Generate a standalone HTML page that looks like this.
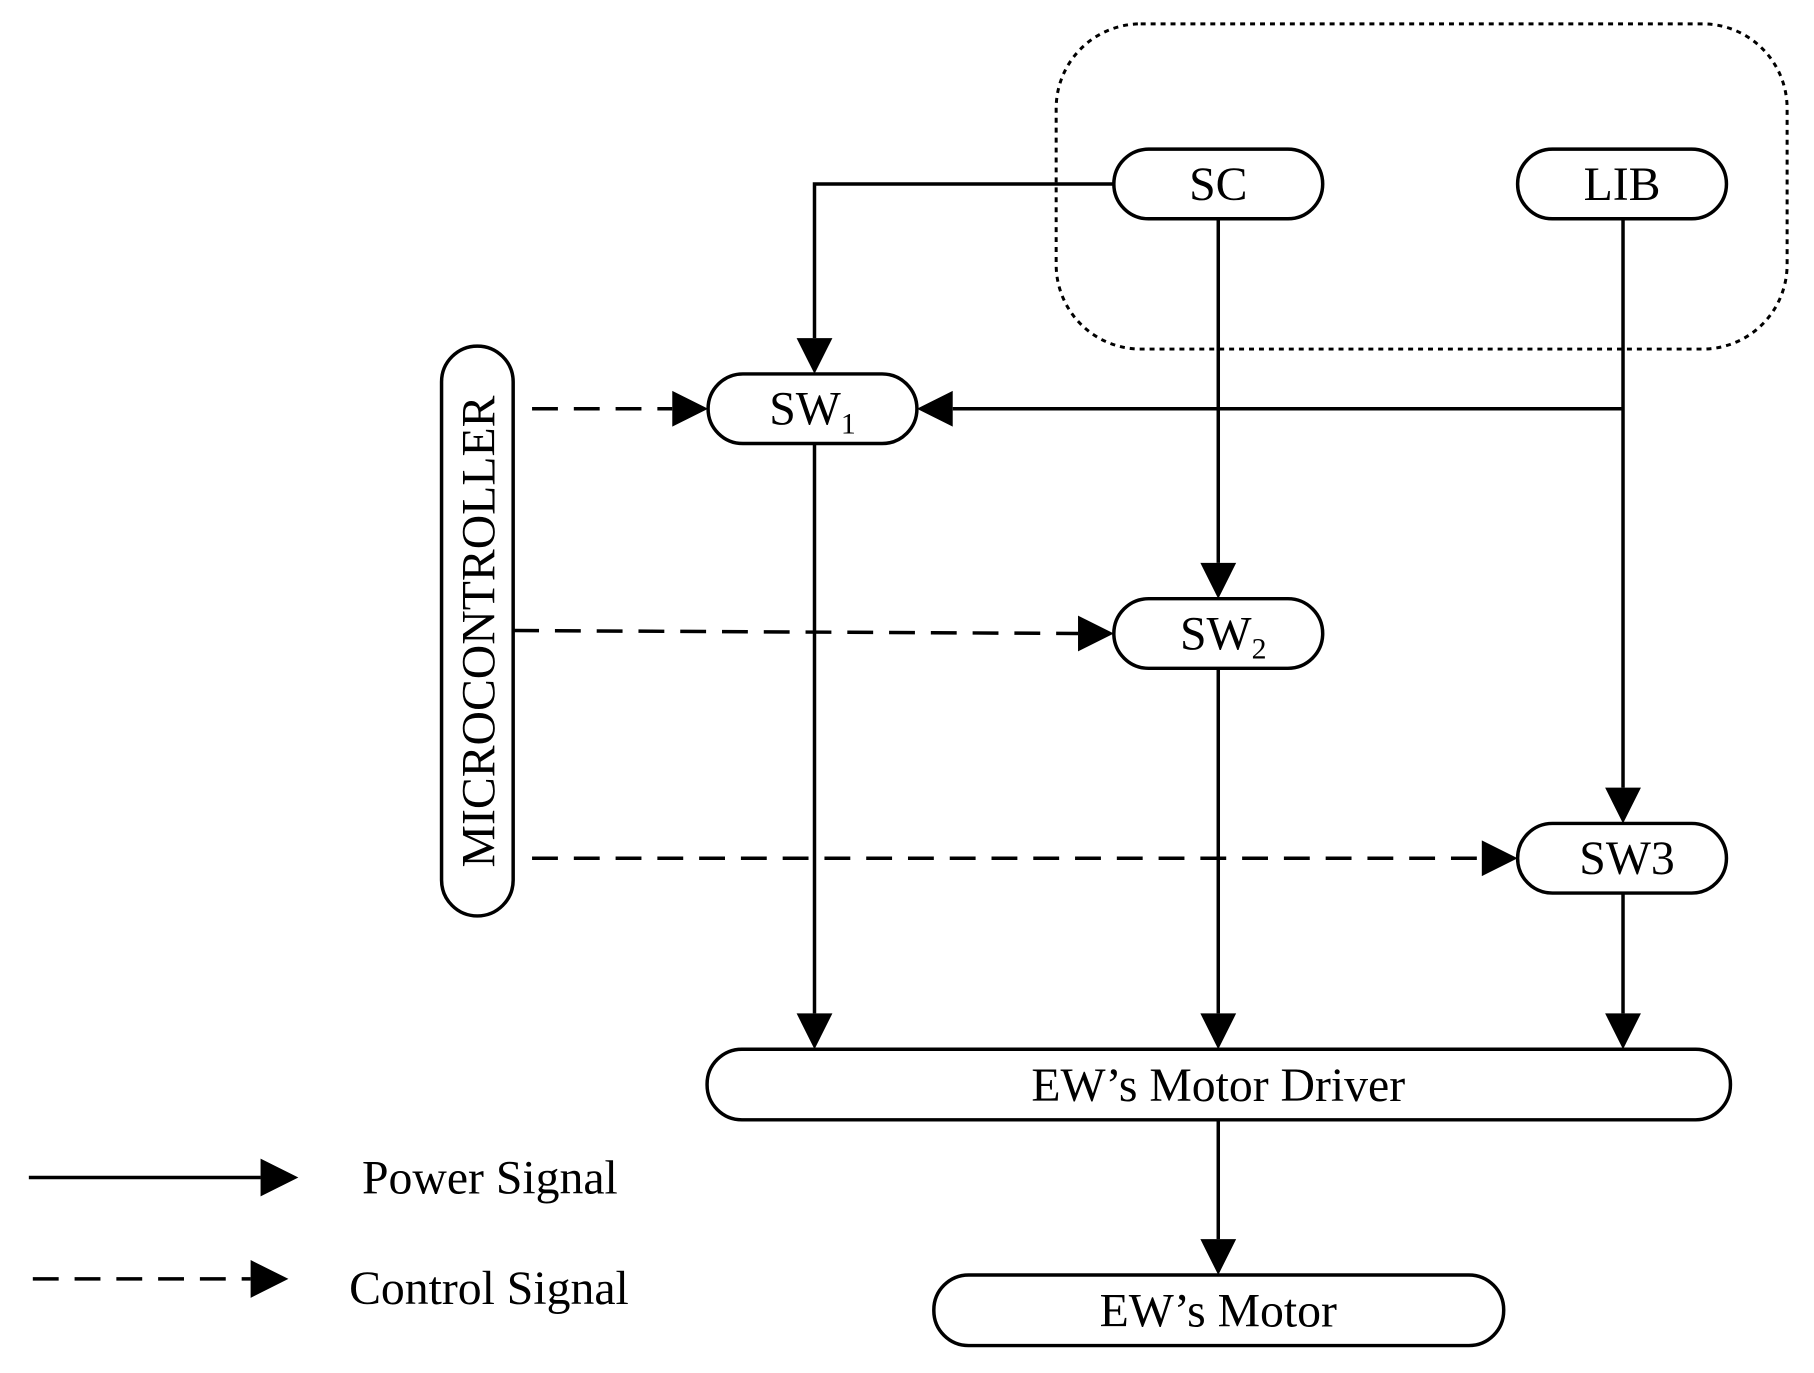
<!DOCTYPE html>
<html><head><meta charset="utf-8"><style>html,body{margin:0;padding:0;background:#fff}svg{display:block}text{font-family:"Liberation Serif",serif;fill:#000}</style></head><body>
<svg width="1814" height="1373" viewBox="0 0 1814 1373" xmlns="http://www.w3.org/2000/svg">
<g transform="scale(0.9945)">
<g fill="none" stroke="#000" stroke-width="3.5">
<rect x="1062" y="24" width="735" height="327" rx="85" stroke-dasharray="5,5" stroke-width="3"/>
<rect x="1120" y="150" width="210" height="70" rx="35"/>
<rect x="1526" y="150" width="210" height="70" rx="35"/>
<rect x="712" y="376" width="210" height="70" rx="35"/>
<rect x="444" y="348" width="72" height="573" rx="36"/>
<rect x="1120" y="602" width="210" height="70" rx="35"/>
<rect x="1526" y="828" width="210" height="70" rx="35"/>
<rect x="711" y="1055" width="1029" height="71" rx="35"/>
<rect x="939" y="1282" width="573" height="71" rx="35"/>
</g>
<g stroke="#000" stroke-width="3.5" fill="none">
<polyline points="1120,185 819,185 819,340"/>
<line x1="1632" y1="411" x2="958" y2="411"/>
<line x1="1225" y1="220" x2="1225" y2="566"/>
<line x1="1632" y1="220" x2="1632" y2="792"/>
<line x1="819" y1="446" x2="819" y2="1019"/>
<line x1="1225" y1="672" x2="1225" y2="1019"/>
<line x1="1632" y1="898" x2="1632" y2="1019"/>
<line x1="1225" y1="1126" x2="1225" y2="1246"/>
<line x1="29" y1="1184" x2="262" y2="1184"/>
<g stroke-dasharray="26,16">
<line x1="535" y1="411" x2="676" y2="411"/>
<line x1="516" y1="634" x2="1084" y2="637"/>
<line x1="535" y1="863" x2="1490" y2="863"/>
<line x1="33" y1="1286" x2="252" y2="1286"/>
</g>
</g>
<g fill="#000">
<path d="M801,340 L837,340 L819,376 z"/>
<path d="M958,393 L958,429 L922,411 z"/>
<path d="M1207,566 L1243,566 L1225,602 z"/>
<path d="M1614,792 L1650,792 L1632,828 z"/>
<path d="M801,1019 L837,1019 L819,1055 z"/>
<path d="M1207,1019 L1243,1019 L1225,1055 z"/>
<path d="M1614,1019 L1650,1019 L1632,1055 z"/>
<path d="M1207,1246 L1243,1246 L1225,1282 z"/>
<path d="M676,393 L676,429 L712,411 z"/>
<path d="M1084,619 L1084,655 L1120,637 z"/>
<path d="M1490,845 L1490,881 L1526,863 z"/>
<path d="M262,1165 L262,1203 L300,1184 z"/>
<path d="M252,1267 L252,1305 L290,1286 z"/>
</g>
<g font-size="48" text-anchor="middle">
<text x="1225" y="201">SC</text>
<text x="1631" y="201">LIB</text>
<text x="817" y="427">SW<tspan font-size="30" dy="9">1</tspan></text>
<text x="1230" y="653">SW<tspan font-size="30" dy="9">2</tspan></text>
<text x="1636" y="879">SW3</text>
<text x="1225" y="1107">EW’s Motor Driver</text>
<text x="1225" y="1334">EW’s Motor</text>
<text transform="translate(497,635) rotate(-90)">MICROCONTROLLER</text>
</g>
<g font-size="48">
<text x="364" y="1200">Power Signal</text>
<text x="351" y="1311">Control Signal</text>
</g>
</g>
</svg>
</body></html>
